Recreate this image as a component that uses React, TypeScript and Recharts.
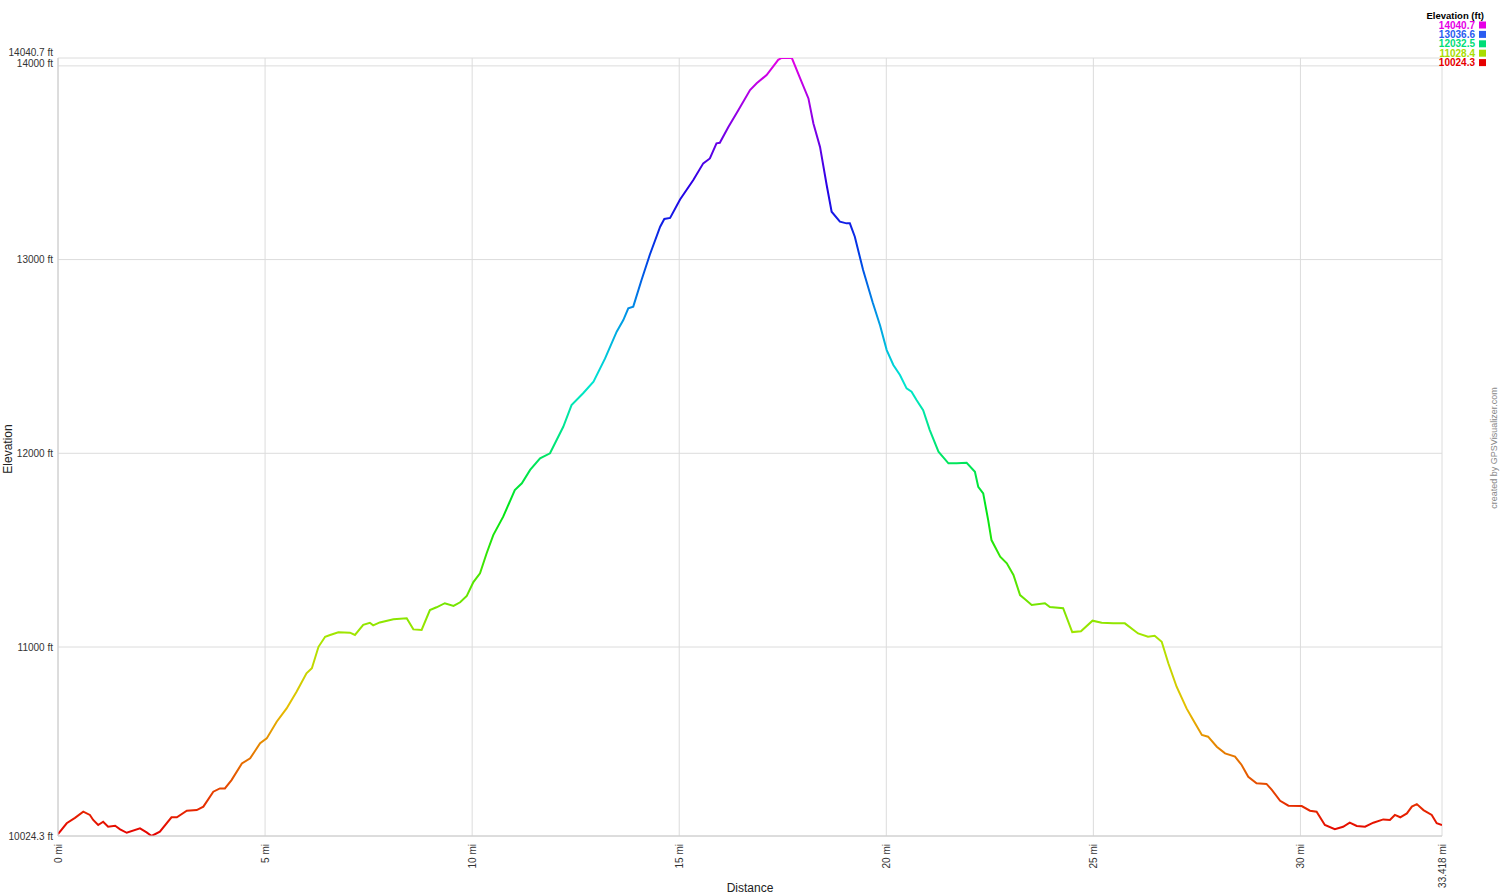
import React from 'react';
import { LineChart, Line, XAxis, YAxis, CartesianGrid } from 'recharts';

// distance along track (mi)
const distanceMi = [
  0, 0.21, 0.41, 0.61, 0.77, 0.85, 0.97, 1.09, 1.21, 1.38, 1.5, 1.66, 1.98, 2.14, 2.26, 2.46, 2.74, 2.87,
  3.11, 3.35, 3.51, 3.75, 3.91, 4.03, 4.19, 4.44, 4.64, 4.88, 5.04, 5.28, 5.52, 5.76, 6.0, 6.13, 6.29,
  6.45, 6.57, 6.77, 7.05, 7.17, 7.37, 7.53, 7.61, 7.77, 8.1, 8.42, 8.58, 8.78, 8.98, 9.14, 9.34, 9.55,
  9.71, 9.87, 10.03, 10.19, 10.35, 10.51, 10.75, 11.03, 11.2, 11.4, 11.64, 11.88, 12.2, 12.4, 12.68,
  12.93, 13.21, 13.49, 13.65, 13.77, 13.89, 14.09, 14.29, 14.54, 14.64, 14.78, 15.02, 15.34, 15.58,
  15.74, 15.9, 15.98, 16.19, 16.43, 16.71, 16.87, 17.11, 17.39, 17.47, 17.72, 17.92, 18.12, 18.24,
  18.4, 18.56, 18.68, 18.88, 19.04, 19.12, 19.24, 19.44, 19.67, 19.85, 20.01, 20.17, 20.33, 20.49,
  20.61, 20.73, 20.89, 21.05, 21.26, 21.5, 21.7, 21.94, 22.14, 22.22, 22.34, 22.46, 22.54, 22.75,
  22.91, 23.07, 23.23, 23.35, 23.51, 23.83, 23.95, 24.27, 24.49, 24.7, 24.98, 25.2, 25.48, 25.76,
  26.08, 26.32, 26.48, 26.65, 26.81, 27.01, 27.25, 27.41, 27.62, 27.77, 27.98, 28.18, 28.42, 28.58,
  28.74, 28.94, 29.18, 29.31, 29.51, 29.71, 30.03, 30.23, 30.39, 30.59, 30.83, 31.03, 31.19, 31.36,
  31.56, 31.76, 32.0, 32.16, 32.28, 32.41, 32.57, 32.69, 32.81, 32.97, 33.17, 33.29, 33.418,
];

// elevation (ft)
const elevationFt = [
  10034, 10090, 10118, 10150, 10133, 10107, 10081, 10098, 10072, 10077, 10059, 10041, 10064, 10043,
  10024.3, 10047, 10121, 10121, 10155, 10158, 10176, 10253, 10270, 10270, 10313, 10399, 10425, 10503,
  10528, 10614, 10683, 10769, 10864, 10890, 11001, 11053, 11062, 11076, 11074, 11062, 11114, 11125,
  11112, 11127, 11143, 11148, 11091, 11088, 11191, 11205, 11226, 11212, 11231, 11264, 11335, 11380,
  11484, 11578, 11673, 11810, 11845, 11914, 11974, 12000, 12137, 12249, 12310, 12370, 12490, 12628,
  12688, 12748, 12757, 12895, 13025, 13170, 13210, 13215, 13310, 13411, 13497, 13522, 13600, 13603,
  13686, 13772, 13875, 13910, 13953, 14031, 14040.7, 14040.7, 13936, 13832, 13703, 13582, 13385,
  13247, 13196, 13187, 13187, 13118, 12946, 12780, 12660, 12533, 12456, 12404, 12335, 12318, 12275,
  12223, 12120, 12008, 11948, 11948, 11951, 11905, 11827, 11793, 11655, 11552, 11466, 11432, 11372,
  11268, 11246, 11217, 11226, 11206, 11200, 11077, 11081, 11136, 11125, 11122, 11122, 11070, 11053,
  11058, 11027, 10916, 10795, 10683, 10623, 10546, 10537, 10485, 10451, 10434, 10391, 10330, 10296,
  10293, 10262, 10206, 10181, 10179, 10155, 10150, 10081, 10059, 10072, 10093, 10076, 10072, 10093,
  10110, 10107, 10133, 10121, 10141, 10176, 10189, 10158, 10133, 10090, 10081,
];

const xTicks = [0, 5, 10, 15, 20, 25, 30, 33.418];
const yTicks = [10024.3, 11000, 12000, 13000, 14000, 14040.7];
const legendValues = [14040.7, 13036.6, 12032.5, 11028.4, 10024.3];
const legendColors = ['#e600e6', '#2a5cf0', '#00dd77', '#a8dd00', '#e60000'];

const data = distanceMi.map((d, i) => ({ d, ele: elevationFt[i] }));

const FONT = '"Liberation Sans", Arial, sans-serif';

// hue 300 at the top of the range down to 0 at the bottom
const gradientStops = Array.from({ length: 13 }, (_, i) => ({
  offset: i / 12,
  color: `hsl(${300 - i * 25}, 100%, 45%)`,
}));

const XTick = (props: any) => {
  const { x, y, payload } = props;
  return (
    <text
      x={x + 4}
      y={y}
      transform={`rotate(-90 ${x + 4} ${y})`}
      textAnchor="end"
      fontSize={10}
      fill="#333"
      fontFamily={FONT}
    >
      {`${payload.value} mi`}
    </text>
  );
};

const YTick = (props: any) => {
  const { x, y, payload } = props;
  // the two top labels are nearly stacked; nudge them apart a little
  const dy = payload.value === 14040.7 ? -2.5 : payload.value === 14000 ? 1 : 3.5;
  return (
    <text x={x} y={y + dy} textAnchor="end" fontSize={10} fill="#333" fontFamily={FONT}>
      {`${payload.value} ft`}
    </text>
  );
};

export default function App() {
  return (
    <div style={{ position: 'absolute', left: 0, top: 0, width: 1500, height: 894, background: '#fff' }}>
      <LineChart width={1500} height={894} data={data} margin={{ top: 58, right: 58, left: 0, bottom: 0 }}>
        <defs>
          <linearGradient id="eleGrad" gradientUnits="userSpaceOnUse" x1="0" y1="58" x2="0" y2="836">
            {gradientStops.map((s) => (
              <stop key={s.offset} offset={s.offset} stopColor={s.color} />
            ))}
          </linearGradient>
        </defs>
        <CartesianGrid stroke="#dcdcdc" strokeWidth={1} />
        <XAxis
          dataKey="d"
          type="number"
          domain={[0, 33.418]}
          ticks={xTicks}
          interval={0}
          height={58}
          tickLine={false}
          tickSize={6}
          stroke="#ccc"
          tick={<XTick />}
          allowDataOverflow
        />
        <YAxis
          type="number"
          domain={[10024.3, 14040.7]}
          ticks={yTicks}
          interval={0}
          width={58}
          tickLine={false}
          tickSize={3}
          stroke="#ccc"
          tick={<YTick />}
          allowDataOverflow
        />
        <Line
          dataKey="ele"
          stroke="url(#eleGrad)"
          strokeWidth={2}
          dot={false}
          activeDot={false}
          isAnimationActive={false}
          type="linear"
        />
      </LineChart>
      <svg
        width={1500}
        height={894}
        style={{ position: 'absolute', left: 0, top: 0, pointerEvents: 'none' }}
        fontFamily={FONT}
      >
        <text x={750} y={892} textAnchor="middle" fontSize={12} fill="#222">
          Distance
        </text>
        <text x={12} y={449} transform="rotate(-90 12 449)" textAnchor="middle" fontSize={12} fill="#222">
          Elevation
        </text>
        <text x={1497} y={448} transform="rotate(-90 1497 448)" textAnchor="middle" fontSize={9} fill="#888">
          created by GPSVisualizer.com
        </text>
        <text x={1484} y={18.5} textAnchor="end" fontSize={9.5} fontWeight="bold" fill="#000">
          Elevation (ft)
        </text>
        {legendValues.map((v, i) => (
          <g key={v}>
            <text x={1475} y={28.5 + i * 9.4} textAnchor="end" fontSize={10} fontWeight="bold" fill={legendColors[i]}>
              {v}
            </text>
            <rect x={1479} y={21.5 + i * 9.4} width={7} height={7} fill={legendColors[i]} />
          </g>
        ))}
      </svg>
    </div>
  );
}
